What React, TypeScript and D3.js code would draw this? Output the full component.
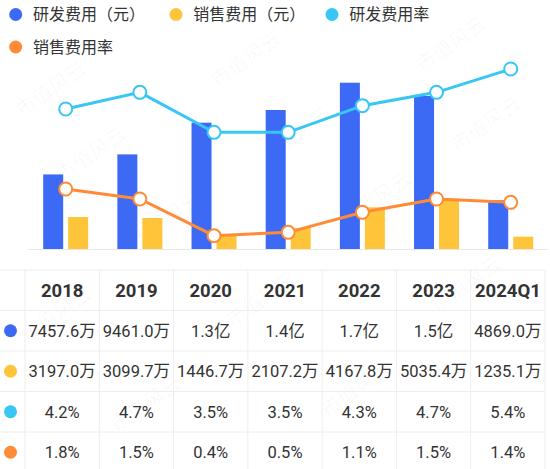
import React from "react";
import * as d3 from "d3";

const years = ["2018", "2019", "2020", "2021", "2022", "2023", "2024Q1"];
// values in 万元
const rdExpense = [7457.6, 9461.0, 12630, 13900, 16630, 15300, 4869.0];
const salesExpense = [3197.0, 3099.7, 1446.7, 2107.2, 4167.8, 5035.4, 1235.1];
// percentages
const rdRate = [4.2, 4.7, 3.5, 3.5, 4.3, 4.7, 5.4];
const salesRate = [1.8, 1.5, 0.4, 0.5, 1.1, 1.5, 1.4];

const seriesNames = ["研发费用（元）", "销售费用（元）", "研发费用率", "销售费用率"];
const seriesColors = ["#3D6AF5", "#FFC53A", "#38C6F4", "#FF8B38"];

const W = 550;
const H = 469;
const FONT = "Roboto, 'Noto Sans CJK SC', 'Noto Sans', sans-serif";

const fmtMoney = (v: number) =>
  v >= 10000 ? `${(v / 10000).toFixed(1)}亿` : `${v.toFixed(1)}万`;
const fmtPct = (v: number) => `${v.toFixed(1)}%`;

export default function App() {
  const x = d3.scaleBand<string>().domain(years).range([28.6, 547.8]).padding(0);
  const step = x.step();
  const x1 = d3
    .scaleBand<string>()
    .domain(["rd", "sales"])
    .range([step / 2 - 22.5, step / 2 + 22.5])
    .paddingInner(0.2);
  const yL = d3.scaleLinear().domain([0, 20000]).range([249, 49]);
  const yR = d3.scaleLinear().domain([0, 6]).range([249, 49]);
  const cx = (i: number) => (x(years[i]) as number) + step / 2;

  const line = d3
    .line<number>()
    .x((_, i) => cx(i))
    .y((d) => yR(d));

  // table layout
  const tX0 = 25;
  const tX1 = 545;
  const col = d3.scaleBand<string>().domain(years).range([tX0, tX1]);
  const rowTops = [270, 310.5, 351, 391.5, 432, 472.5];
  const rowMid = (r: number) => (rowTops[r] + rowTops[r + 1]) / 2;
  const rows: { color: string; labels: string[] }[] = [
    { color: seriesColors[0], labels: rdExpense.map(fmtMoney) },
    { color: seriesColors[1], labels: salesExpense.map(fmtMoney) },
    { color: seriesColors[2], labels: rdRate.map(fmtPct) },
    { color: seriesColors[3], labels: salesRate.map(fmtPct) },
  ];

  const legendPos = [
    [15.7, 14.5],
    [176, 14.5],
    [332, 14.5],
    [15.7, 47],
  ];

  const wm: [number, number][] = [
    [55, 95], [250, 65], [455, 50],
    [95, 160], [300, 140], [490, 130],
    [170, 225], [380, 205],
    [60, 320], [265, 305], [470, 290],
    [150, 410], [360, 395],
  ];

  return (
    <svg
      width={W}
      height={H}
      style={{ position: "absolute", left: 0, top: 0, background: "#fff" }}
      fontFamily={FONT}
    >
      <rect width={W} height={H} fill="#fff" />
      {/* watermark */}
      <g fill="#000" fillOpacity={0.03} fontSize={20}>
        {wm.map(([wx, wy], i) => (
          <text key={i} x={wx} y={wy} transform={`rotate(-35 ${wx} ${wy})`} textAnchor="middle">
            市值风云
          </text>
        ))}
      </g>

      {/* legend */}
      {seriesNames.map((n, i) => (
        <g key={n}>
          <circle cx={legendPos[i][0]} cy={legendPos[i][1]} r={6.5} fill={seriesColors[i]} />
          <text
            x={legendPos[i][0] + 17.3}
            y={legendPos[i][1]}
            dy="0.35em"
            fontSize={16}
            fill="#333"
          >
            {n}
          </text>
        </g>
      ))}

      {/* bars */}
      {years.map((yr, i) => (
        <g key={yr} transform={`translate(${x(yr)},0)`}>
          <rect
            x={x1("rd")}
            y={yL(rdExpense[i])}
            width={x1.bandwidth()}
            height={yL(0) - yL(rdExpense[i])}
            fill={seriesColors[0]}
          />
          <rect
            x={x1("sales")}
            y={yL(salesExpense[i])}
            width={x1.bandwidth()}
            height={yL(0) - yL(salesExpense[i])}
            fill={seriesColors[1]}
          />
        </g>
      ))}
      <line x1={28} x2={548} y1={249.5} y2={249.5} stroke="#e8e8e8" strokeWidth={1} />

      {/* lines */}
      {[rdRate, salesRate].map((s, k) => (
        <g key={k}>
          <path d={line(s) || ""} fill="none" stroke={seriesColors[2 + k]} strokeWidth={3} />
          {s.map((v, i) => (
            <circle
              key={i}
              cx={cx(i)}
              cy={yR(v)}
              r={6.5}
              fill="#fff"
              stroke={seriesColors[2 + k]}
              strokeWidth={2}
            />
          ))}
        </g>
      ))}

      {/* table grid */}
      <g stroke="#eeeeee" strokeWidth={1}>
        {rowTops.map((t, i) => (
          <line key={"h" + i} x1={0} x2={tX1} y1={t} y2={t} />
        ))}
        {[...years.map((y) => col(y) as number), tX1].map((vx, i) => (
          <line key={"v" + i} x1={vx} x2={vx} y1={rowTops[0]} y2={H} />
        ))}
      </g>

      {/* header */}
      {years.map((yr) => (
        <text
          key={yr}
          x={(col(yr) as number) + col.bandwidth() / 2}
          y={rowMid(0)}
          dy="0.35em"
          textAnchor="middle"
          fontSize={18.5}
          fontWeight="bold"
          fill="#333"
        >
          {yr}
        </text>
      ))}

      {/* rows */}
      {rows.map((row, r) => (
        <g key={r}>
          <circle cx={10.5} cy={rowMid(r + 1)} r={6.5} fill={row.color} />
          {row.labels.map((lab, i) => (
            <text
              key={i}
              x={(col(years[i]) as number) + col.bandwidth() / 2}
              y={rowMid(r + 1)}
              dy="0.35em"
              textAnchor="middle"
              fontSize={16.5}
              fill="#333"
            >
              {lab}
            </text>
          ))}
        </g>
      ))}
    </svg>
  );
}
